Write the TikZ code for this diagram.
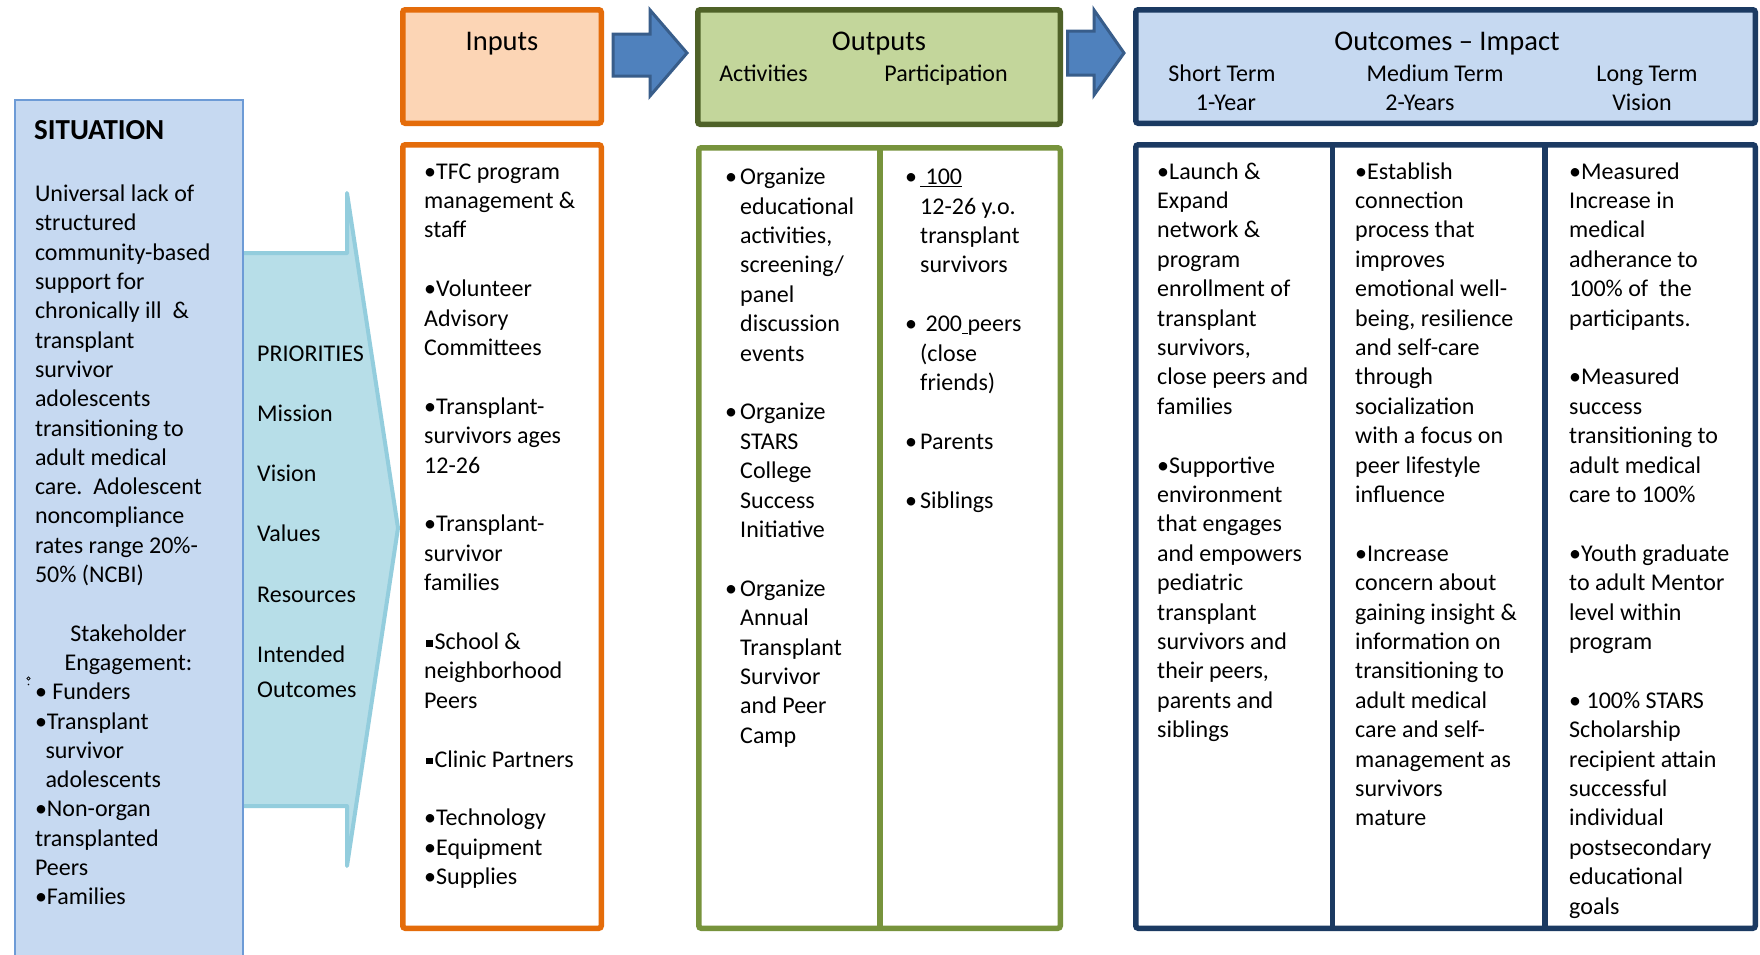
\documentclass[tikz,border=0pt]{standalone}
\usepackage{fontspec}
\setmainfont{Carlito}
\definecolor{sitfill}{HTML}{C6D9F1}
\definecolor{sitdraw}{HTML}{6D9BD6}
\definecolor{prifill}{HTML}{B7DEE8}
\definecolor{pridraw}{HTML}{93CDDD}
\definecolor{inpfill}{HTML}{FCD5B5}
\definecolor{inpdraw}{HTML}{E46C0A}
\definecolor{outfill}{HTML}{C3D69B}
\definecolor{outdraw}{HTML}{4F6228}
\definecolor{outbody}{HTML}{77933C}
\definecolor{ocfill}{HTML}{C6D9F1}
\definecolor{ocdraw}{HTML}{1B3A62}
\definecolor{arrfill}{HTML}{4F81BD}
\definecolor{arrdraw}{HTML}{385D8A}
\newcommand\myind{\hspace*{15pt}}
\newcommand\mybul{\makebox[15pt][l]{•}}
\newcommand\mysq{\hspace*{2pt}\rule[3pt]{6.5pt}{6.5pt}\hspace*{1.8pt}}
\newcommand\mycol[1]{\begin{minipage}[t]{300pt}\raggedright\fontsize{24}{29.4}\selectfont #1\end{minipage}}
\tikzset{
  boxline/.style={line width=5.5pt, rounded corners=2.5pt},
  coltext/.style={anchor=base west, inner sep=0pt, font=\fontsize{24}{29.4}\selectfont},
  lbl/.style={anchor=base, inner sep=0pt, font=\fontsize{24}{29.4}\selectfont},
  ttl/.style={anchor=base, inner sep=0pt, font=\fontsize{28.5}{34}\selectfont},
  blockarrow/.style={draw=arrdraw, fill=arrfill, line width=3pt, line join=miter}
}
\begin{document}
\begin{tikzpicture}[x=1pt,y=-1pt]
\useasboundingbox (0,0) rectangle (1760,954);
\clip (0,0) rectangle (1760,954);
\fill[white] (0,0) rectangle (1760,954);

% priorities arrow
\draw[draw=pridraw, fill=prifill, line width=4pt, line join=round]
  (200,253) -- (347,253) -- (347,193) -- (398,528) -- (347,866) -- (347,806) -- (200,806) -- cycle;

% situation box
\draw[draw=sitdraw, fill=sitfill, line width=1.5pt] (15,100) rectangle (243,970);
\node[anchor=base west, inner sep=0pt, font=\fontsize{29}{34}\selectfont\bfseries] (sitT) at (34,139) {SITUATION};
\node[coltext] (sitX) at (34.8,201.6) {\begin{minipage}[t]{205pt}\raggedright\fontsize{24}{29.3}\selectfont
Universal lack of\\
structured\\
community-based\\
support for\\
chronically ill\ \ \&\\
transplant\\
survivor\\
adolescents\\
transitioning to\\
adult medical\\
care.\ \ Adolescent\\
noncompliance\\
rates range 20\%-\\
50\% (NCBI)\end{minipage}};
\node[lbl] (sk1) at (128.5,641) {Stakeholder};
\node[lbl] (sk2) at (128.5,670.5) {Engagement:};
\node[coltext] (sitL) at (34.8,699.7) {\begin{minipage}[t]{205pt}\raggedright\fontsize{24}{29.3}\selectfont
•\ Funders\\
•Transplant\\
\hspace*{10.5pt}survivor\\
\hspace*{10.5pt}adolescents\\
•Non-organ\\
transplanted\\
Peers\\
•Families\end{minipage}};
\draw[black, line width=0.6pt] (28.5,678.5) circle (1.6);
\fill[black] (28.5,684.5) circle (0.8);

% priorities labels
\node[coltext] (p1) at (257,361) {PRIORITIES};
\node[coltext] (p2) at (257,421) {Mission};
\node[coltext] (p3) at (257,481) {Vision};
\node[coltext] (p4) at (257,541.5) {Values};
\node[coltext] (p5) at (257,602) {Resources};
\node[coltext] (p6) at (257,662.5) {Intended};
\node[coltext] (p7) at (257,697) {Outcomes};

% header boxes
\draw[boxline, draw=inpdraw, fill=inpfill] (402.75,9.75) rectangle (601.25,123.25);
\draw[boxline, draw=outdraw, fill=outfill] (697.75,9.75) rectangle (1060.25,124.25);
\draw[boxline, draw=ocdraw, fill=ocfill] (1135.75,9.75) rectangle (1755.25,123.25);

% block arrows
\draw[blockarrow] (613,34) -- (650,34) -- (650,10) -- (687,53) -- (650,96) -- (650,76) -- (613,76) -- cycle;
\draw[blockarrow] (1067.5,31) -- (1094,31) -- (1094,10) -- (1124,53) -- (1094,95) -- (1094,75) -- (1067.5,75) -- cycle;

% header texts
\node[ttl] (hIn) at (502,50) {Inputs};
\node[ttl] (hOut) at (879,50) {Outputs};
\node[lbl] (hAct) at (763.5,81) {Activities};
\node[lbl] (hPar) at (946,81) {Participation};
\node[ttl] (hOc) at (1447,50) {Outcomes -- Impact};
\node[lbl] (hS1) at (1222,81) {Short Term};
\node[lbl] (hS2) at (1226,110) {1-Year};
\node[lbl] (hM1) at (1435,81) {Medium Term};
\node[lbl] (hM2) at (1420,110) {2-Years};
\node[lbl] (hL1) at (1647,81) {Long Term};
\node[lbl] (hL2) at (1642,110) {Vision};

% body boxes
\draw[boxline, draw=inpdraw, fill=white] (402.75,144.75) rectangle (601.25,928.25);
\draw[boxline, draw=outbody, fill=white] (698.75,147.75) rectangle (1060.25,928.25);
\draw[draw=outbody, line width=5.5pt] (880,147.75) -- (880,928.25);
\draw[boxline, draw=ocdraw, fill=white] (1135.75,144.75) rectangle (1755.25,928.25);
\draw[draw=ocdraw, line width=5.5pt] (1332.5,144.75) -- (1332.5,928.25);
\draw[draw=ocdraw, line width=5.5pt] (1545,144.75) -- (1545,928.25);

% inputs column
\node[coltext] (cIn) at (424,179.1) {\mycol{%
•TFC program\\ management \&\\ staff\\[29.4pt]
•Volunteer\\ Advisory\\ Committees\\[29.4pt]
•Transplant-\\ survivors ages\\ 12-26\\[29.4pt]
•Transplant-\\ survivor\\ families\\[29.4pt]
\mysq School \&\\ neighborhood\\ Peers\\[29.4pt]
\mysq Clinic Partners\\[29.4pt]
•Technology\\ •Equipment\\ •Supplies}};

% activities column
\node[coltext] (cAct) at (725,184.6) {\mycol{%
\mybul Organize\\ \myind educational\\ \myind activities,\\ \myind screening/\\ \myind panel\\ \myind discussion\\ \myind events\\[29.4pt]
\mybul Organize\\ \myind STARS\\ \myind College\\ \myind Success\\ \myind Initiative\\[29.4pt]
\mybul Organize\\ \myind Annual\\ \myind Transplant\\ \myind Survivor\\ \myind and Peer\\ \myind Camp}};

% participation column
\node[coltext] (cPar) at (905,184.6) {\mycol{%
\mybul\underline{\ 100}\\ \myind 12-26 y.o.\\ \myind transplant\\ \myind survivors\\[29.4pt]
\mybul\ 200\underline{\ }peers\\ \myind (close\\ \myind friends)\\[29.4pt]
\mybul Parents\\[29.4pt]
\mybul Siblings}};

% short term column
\node[coltext] (cS) at (1157,179.1) {\mycol{%
•Launch \&\\ Expand\\ network \&\\ program\\ enrollment of\\ transplant\\ survivors,\\ close peers and\\ families\\[29.4pt]
•Supportive\\ environment\\ that engages\\ and empowers\\ pediatric\\ transplant\\ survivors and\\ their peers,\\ parents and\\ siblings}};

% medium term column
\node[coltext] (cM) at (1355,179.1) {\mycol{%
•Establish\\ connection\\ process that\\ improves\\ emotional well-\\ being, resilience\\ and self-care\\ through\\ socialization\\ with a focus on\\ peer lifestyle\\ influence\\[29.4pt]
•Increase\\ concern about\\ gaining insight \&\\ information on\\ transitioning to\\ adult medical\\ care and self-\\ management as\\ survivors\\ mature}};

% long term column
\node[coltext] (cL) at (1569,179.1) {\mycol{%
•Measured\\ Increase in\\ medical\\ adherance to\\ 100\% of\ \ the\\ participants.\\[29.4pt]
•Measured\\ success\\ transitioning to\\ adult medical\\ care to 100\%\\[29.4pt]
•Youth graduate\\ to adult Mentor\\ level within\\ program\\[29.4pt]
•\ 100\% STARS\\ Scholarship\\ recipient attain\\ successful\\ individual\\ postsecondary\\ educational\\ goals}};
\end{tikzpicture}
\end{document}
